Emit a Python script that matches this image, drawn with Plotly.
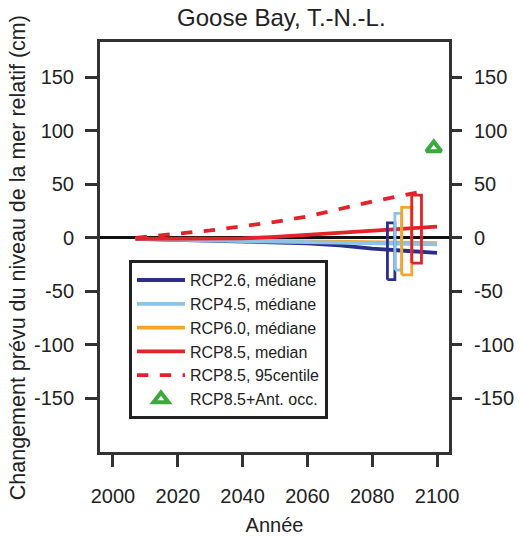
import plotly.graph_objects as go

# ---- data ----
years = [2007, 2020, 2030, 2040, 2050, 2060, 2070, 2080, 2090, 2100]
rcp26_med = [-1, -2, -2.5, -3, -4, -5, -7, -10, -12, -14]
rcp45_med = [-1, -2, -2.5, -3, -3.5, -4, -4.5, -5, -5.5, -6]
rcp60_med = [-1, -1.5, -2, -2.5, -3, -3.5, -4, -4.5, -5, -5]
rcp85_med = [-1, -1, -1, -0.5, 1, 3, 5, 7, 9, 10.5]

years95 = [2007, 2020, 2030, 2040, 2050, 2060, 2070, 2080, 2090, 2095]
rcp85_p95 = [0, 4, 7, 11, 15, 20, 27, 34, 40, 43]

ant_year = [2099]
ant_val = [84]

scenarios = ["RCP2.6", "RCP4.5", "RCP6.0", "RCP8.5"]
box_left = [2084.7, 2087.0, 2089.1, 2092.2]
box_right = [2087.0, 2089.1, 2092.2, 2095.2]
box_low = [-39, -30, -34.5, -23.5]
box_high = [14, 23, 28.5, 40]

colors = ["#2b2e8c", "#8cc4e8", "#f4a52a", "#e2232a"]
green = "#3aaa3c"

yticks = [-150, -100, -50, 0, 50, 100, 150]
ytick_text = ["-150", "-100", "-50", "0", "50", "100", "150"]
xticks = [2000, 2020, 2040, 2060, 2080, 2100]

font = "Liberation Sans, Arial, Helvetica, sans-serif"

fig = go.Figure()

names = ["RCP2.6, médiane", "RCP4.5, médiane", "RCP6.0, médiane", "RCP8.5, median"]
meds = [rcp26_med, rcp45_med, rcp60_med, rcp85_med]
draw_order = [2, 0, 1, 3]
for i in draw_order:
    fig.add_trace(go.Scatter(x=years, y=meds[i], mode="lines", name=names[i],
                             line=dict(color=colors[i], width=3.8),
                             legendrank=i + 1))

fig.add_trace(go.Scatter(x=years95, y=rcp85_p95, mode="lines", name="RCP8.5, 95centile",
                         line=dict(color=colors[3], width=3.8, dash="dash"),
                         legendrank=5))

for i in range(4):
    xl, xr, lo, hi = box_left[i], box_right[i], box_low[i], box_high[i]
    fig.add_trace(go.Scatter(x=[xl, xr, xr, xl, xl], y=[lo, lo, hi, hi, lo], mode="lines",
                             line=dict(color=colors[i], width=2.8), showlegend=False,
                             hoverinfo="skip"))

fig.add_trace(go.Scatter(x=ant_year, y=ant_val, mode="markers", name="RCP8.5+Ant. occ.",
                         marker=dict(symbol="triangle-up-open", size=13, color=green,
                                     line=dict(color=green, width=4)),
                         legendrank=6))

# dummy trace for right axis
fig.add_trace(go.Scatter(x=[2000], y=[0], yaxis="y2", mode="markers",
                         marker=dict(opacity=0), showlegend=False, hoverinfo="skip"))

yrange = [-200, 183]
tickfont = dict(size=20, color="#222")
fig.update_layout(
    width=521, height=537,
    margin=dict(l=100, r=72, t=42, b=85, autoexpand=False),
    paper_bgcolor="white", plot_bgcolor="white",
    font=dict(family=font, size=20, color="#222"),
    title=dict(text="Goose Bay, T.-N.-L.", x=0.54, xanchor="center", y=0.967,
               yanchor="middle", font=dict(size=24, color="#222")),
    xaxis=dict(range=[1996, 2103.7], tickvals=xticks, ticks="outside", ticklen=12,
               tickwidth=2.5, tickcolor="#333", showgrid=False, zeroline=False,
               showline=True, linewidth=3, linecolor="#333", mirror=True,
               ticklabelstandoff=12, automargin=False,
               title=dict(text="Année", standoff=12, font=dict(size=20)), tickfont=tickfont),
    yaxis=dict(range=yrange, tickvals=yticks, ticktext=ytick_text, ticks="outside", ticklen=12,
               tickwidth=2.5, tickcolor="#333", showgrid=False,
               zeroline=True, zerolinecolor="#111", zerolinewidth=2.5,
               showline=True, linewidth=3, linecolor="#333", mirror=True,
               ticklabelstandoff=7, automargin=False,
               tickfont=tickfont),
    yaxis2=dict(range=yrange, tickvals=yticks, ticktext=ytick_text, ticks="outside", ticklen=12,
                tickwidth=2.5, tickcolor="#333", showgrid=False, zeroline=False,
                ticklabelstandoff=8, automargin=False,
                overlaying="y", side="right", tickfont=tickfont),
    legend=dict(x=0.083, y=0.468, xanchor="left", yanchor="top",
                bgcolor="white", bordercolor="#222", borderwidth=3,
                font=dict(size=16, color="#222"), tracegroupgap=0,
                itemwidth=48),
    showlegend=True,
)

# y-axis title placed as a rotated annotation (centred slightly below plot centre)
fig.add_annotation(text="Changement prévu du niveau de la mer relatif (cm)",
                   textangle=-90, xref="paper", yref="paper",
                   x=-0.235, y=0.475, xanchor="center", yanchor="middle",
                   showarrow=False, font=dict(size=21.5, color="#222"))

fig.write_html("out.html")
